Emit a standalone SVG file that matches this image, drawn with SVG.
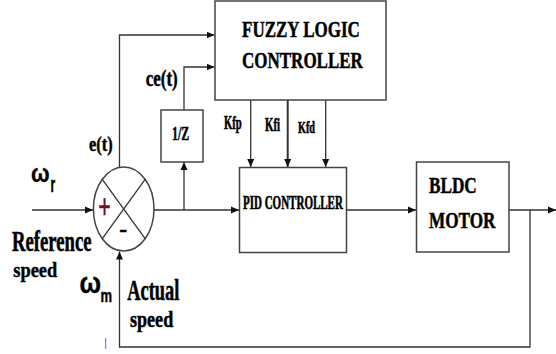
<svg xmlns="http://www.w3.org/2000/svg" width="556" height="354" viewBox="0 0 556 354">
  <style>
    .box { fill: #ffffff; stroke: #444444; stroke-width: 1.5; }
    .ln { fill: none; stroke: #333333; stroke-width: 1.3; }
    .t { font-family: "Liberation Serif", "Times New Roman", serif; font-weight: bold; fill: #000000; stroke: #000000; stroke-width: 0.35; }
    .g { font-family: "Liberation Sans", Arial, sans-serif; font-weight: bold; fill: #000000; stroke: #000000; stroke-width: 0.3; }
  </style>
  <defs>
    <marker id="arr" markerUnits="userSpaceOnUse" markerWidth="9" markerHeight="8" refX="8" refY="4" orient="auto">
      <path d="M0,0.5 L8,4 L0,7.5 z" fill="#111111"/>
    </marker>
  </defs>
  <rect width="556" height="354" fill="#ffffff"/>

  <g id="connectors">
    <line class="ln" x1="32" y1="210" x2="93" y2="210" marker-end="url(#arr)"/>
    <line class="ln" x1="154" y1="210" x2="239" y2="210" marker-end="url(#arr)"/>
    <line class="ln" x1="184" y1="210" x2="184" y2="162" marker-end="url(#arr)"/>
    <path class="ln" d="M184,110 V67 H214.5" marker-end="url(#arr)"/>
    <path class="ln" d="M119.5,167 V35 H214.5" marker-end="url(#arr)"/>
    <line class="ln" x1="250.7" y1="100" x2="250.7" y2="167" marker-end="url(#arr)"/>
    <line class="ln" x1="287.7" y1="100" x2="287.7" y2="167" style="stroke-width:2" marker-end="url(#arr)"/>
    <line class="ln" x1="325.7" y1="100" x2="325.7" y2="167" marker-end="url(#arr)"/>
    <line class="ln" x1="347" y1="210" x2="416" y2="210" marker-end="url(#arr)"/>
    <line class="ln" x1="509" y1="210" x2="556" y2="210" marker-end="url(#arr)"/>
    <path class="ln" d="M530,210 V347 H119.5 V251.5" marker-end="url(#arr)"/>
    <line x1="105.7" y1="338" x2="105.7" y2="349" stroke="#4a6cff" stroke-width="1"/>
  </g>

  <g id="fuzzy">
    <rect class="box" x="215" y="1" width="171" height="99"/>
    <text class="t" font-size="17" transform="translate(242,37) scale(1,1.33)">FUZZY LOGIC</text>
    <text class="t" font-size="17" transform="translate(242,68) scale(1,1.33)">CONTROLLER</text>
  </g>

  <g id="delay">
    <rect class="box" x="161" y="110" width="42" height="52"/>
    <text class="t" font-size="11.8" transform="translate(172,140) scale(1,1.54)">1/Z</text>
  </g>

  <g id="pid">
    <rect class="box" x="239.5" y="167.5" width="107" height="85"/>
    <text class="t" font-size="11" transform="translate(243,209) scale(1,1.65)">PID CONTROLLER</text>
  </g>

  <g id="bldc">
    <rect class="box" x="416.5" y="162" width="92.5" height="90"/>
    <text class="t" font-size="17.2" transform="translate(429,193.3) scale(1,1.34)">BLDC</text>
    <text class="t" font-size="17.2" transform="translate(429,228.3) scale(1,1.32)">MOTOR</text>
  </g>

  <g id="summer">
    <ellipse class="box" cx="123.7" cy="209" rx="30.3" ry="42"/>
    <line class="ln" x1="102.3" y1="179.3" x2="145.1" y2="238.7"/>
    <line class="ln" x1="145.1" y1="179.3" x2="102.3" y2="238.7"/>
    <text class="t" font-size="22" text-anchor="middle" style="fill:#6a0f1f;stroke:#6a0f1f" transform="translate(104.5,218.5) scale(1,1.6)">+</text>
    <text class="t" font-size="24" text-anchor="middle" transform="translate(123.2,237)">-</text>
  </g>

  <g id="labels">
    <text class="t" font-size="10.6" transform="translate(224,129) scale(1,1.75)">Kfp</text>
    <text class="t" font-size="10.8" transform="translate(265,130.5) scale(1,1.75)">Kfi</text>
    <text class="t" font-size="10.2" transform="translate(298,132.5) scale(1,1.73)">Kfd</text>
    <text class="t" font-size="17" transform="translate(145.7,85.5) scale(1,1.33)">ce(t)</text>
    <text class="t" font-size="16.4" transform="translate(89,150.5) scale(1,1.33)">e(t)</text>
    <text class="g" font-size="22" transform="translate(31,181.7) scale(1,1.17)">ω</text>
    <text class="g" font-size="12" transform="translate(50.5,191.7) scale(1,1.8)">r</text>
    <text class="t" font-size="18.7" transform="translate(12,250.7) scale(1,1.53)">Reference</text>
    <text class="t" font-size="18.4" transform="translate(13.3,277.3) scale(1,1.13)">speed</text>
    <text class="g" font-size="25.5" transform="translate(79.5,293.3) scale(1,1.18)">ω</text>
    <text class="g" font-size="13" transform="translate(100.5,301.7) scale(1,1.47)">m</text>
    <text class="t" font-size="18.4" transform="translate(127.3,300) scale(1,1.6)">Actual</text>
    <text class="t" font-size="18.1" transform="translate(130,327.3) scale(1,1.28)">speed</text>
  </g>
</svg>
